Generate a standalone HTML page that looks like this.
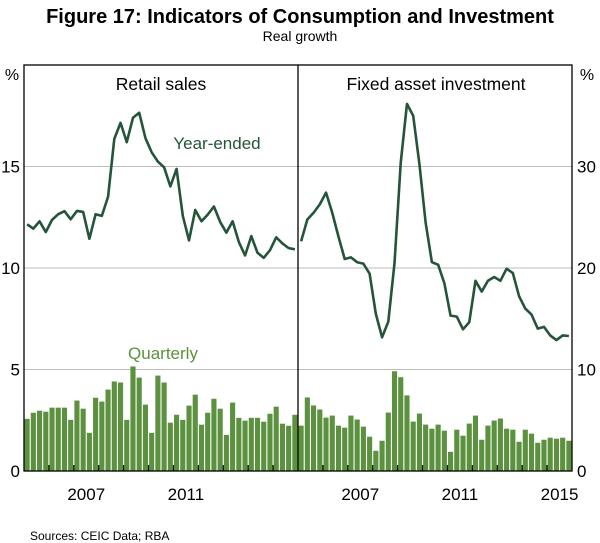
<!DOCTYPE html>
<html><head><meta charset="utf-8"><style>
body{margin:0;background:#fff;}
svg{display:block;font-family:"Liberation Sans",Arial,sans-serif;}
</style></head><body>
<svg id="chart" width="600" height="543" viewBox="0 0 600 543">
<text x="300" y="23" text-anchor="middle" font-size="20" font-weight="bold" fill="#000">Figure 17: Indicators of Consumption and Investment</text>
<text x="300" y="41" text-anchor="middle" font-size="14" fill="#000">Real growth</text>
<g id="grid"></g>
<g id="bars"></g>
<g id="lines"></g>
<g id="axes"></g>
<text x="12" y="80" text-anchor="middle" font-size="16">%</text>
<text x="587" y="80" text-anchor="middle" font-size="16">%</text>
<text x="161" y="90" text-anchor="middle" font-size="17.5">Retail sales</text>
<text x="436" y="90" text-anchor="middle" font-size="17.5">Fixed asset investment</text>
<text x="217" y="149" text-anchor="middle" font-size="17" fill="#24553a">Year-ended</text>
<text x="163" y="359" text-anchor="middle" font-size="17" fill="#5b913f">Quarterly</text>
<text x="30" y="540" font-size="12" fill="#000">Sources:   CEIC Data; RBA</text>
</svg>
<script>
const retailQuarterly=[2.57,2.87,2.97,2.92,3.12,3.12,3.12,2.52,3.47,3.07,1.88,3.61,3.42,4.01,4.41,4.36,2.52,5.15,4.6,3.27,1.88,4.7,4.36,2.38,2.77,2.52,3.22,3.76,2.28,2.87,3.56,3.07,1.78,3.37,2.62,2.48,2.62,2.62,2.43,2.82,3.17,2.33,2.23,2.77];
const retailYearEnded=[12.15,11.94,12.30,11.77,12.37,12.65,12.80,12.40,12.81,12.76,11.44,12.65,12.57,13.51,16.36,17.15,16.20,17.40,17.65,16.40,15.70,15.24,14.96,14.02,14.88,12.57,11.36,12.86,12.30,12.63,13.03,12.27,11.74,12.30,11.28,10.62,11.57,10.75,10.50,10.88,11.51,11.21,10.98,10.92];
const faiQuarterly=[4.47,7.25,6.46,6.06,5.26,5.46,4.47,4.27,5.46,5.07,4.37,3.38,1.99,2.98,5.76,9.83,9.24,7.45,4.87,5.66,4.57,4.17,4.57,3.97,1.89,4.07,3.48,4.67,5.46,3.08,4.47,4.97,5.17,4.17,4.07,2.88,4.07,3.68,2.78,3.08,3.28,3.18,3.28,2.98];
const faiYearEnded=[22.63,24.78,25.44,26.27,27.43,25.44,23.09,20.89,21.05,20.57,20.43,19.44,15.48,13.17,14.71,20.50,30.40,36.17,35.0,30.23,24.45,20.57,20.33,18.51,15.31,15.21,13.96,14.65,18.74,17.68,18.74,19.11,18.74,19.93,19.50,17.22,16.0,15.41,14.03,14.20,13.36,12.90,13.36,13.30];
const leftTicks=[0,5,10,15];
const rightTicks=[0,10,20,30];
const yearLabelsLeft=["2007","2011"];
const yearLabelsRight=["2007","2011","2015"];
const startYear=2005;

const NS="http://www.w3.org/2000/svg";
const pTop=65,bot=471,L0=24,L1=298,R1=572;
const nQ=44;
function mk(tag,attrs,parent){const e=document.createElementNS(NS,tag);for(const k in attrs)e.setAttribute(k,attrs[k]);parent.appendChild(e);return e;}
function xq(panel,i){const x0=panel?L1:L0;return x0+(i+0.5)*(L1-L0)/nQ;}
function xYear(panel,y){const x0=panel?L1:L0;return x0+(y-startYear)*4*(L1-L0)/nQ;}
function yL(v){return bot-v*(bot-pTop)/20;}
function yR(v){return bot-v*(bot-pTop)/40;}
const grid=document.getElementById('grid'),bars=document.getElementById('bars'),lines=document.getElementById('lines'),axes=document.getElementById('axes');

leftTicks.forEach(v=>{
 if(v>0){const g=mk('line',{x1:L0,x2:R1,y1:yL(v),y2:yL(v),stroke:'#bdbdbd','stroke-width':1},grid);
 
 }
 const t=mk('text',{x:20,y:yL(v)+6,'text-anchor':'end','font-size':17},axes);t.textContent=v;
 
 
});
rightTicks.forEach(v=>{
 const t=mk('text',{x:577,y:yR(v)+6,'text-anchor':'start','font-size':17},axes);t.textContent=v;
 
 
});
const bw=(L1-L0)/nQ-1.1;
function drawBars(arr,panel,yf,name){arr.forEach((v,i)=>{const y=yf(v);
 const r=mk('rect',{x:xq(panel,i)-bw/2,y:y,width:bw,height:bot-y,fill:'#5b913f'},bars);
 
 });}
drawBars(retailQuarterly,0,yL,'retail-quarterly-bar');
drawBars(faiQuarterly,1,yR,'fai-quarterly-bar');
function drawLine(arr,panel,yf,name){const p=mk('polyline',{points:arr.map((v,i)=>xq(panel,i).toFixed(2)+','+yf(v).toFixed(2)).join(' '),fill:'none',stroke:'#24553a','stroke-width':2.6,'stroke-linejoin':'round'},lines);
 
 }
drawLine(retailYearEnded,0,yL,'retail-year-ended-line');
drawLine(faiYearEnded,1,yR,'fai-year-ended-line');

for(let p=0;p<2;p++){for(let y=startYear+1;y<startYear+11;y++){const x=xYear(p,y);
 const tk=mk('line',{x1:x,x2:x,y1:bot,y2:bot-6,stroke:'#000','stroke-width':1.2},axes);
 
 }}
function yearLabels(list,panel,name){list.forEach(s=>{const y=+s;const x=(xYear(panel,y)+xYear(panel,y+1))/2;
 const t=mk('text',{x:x,y:500,'text-anchor':'middle','font-size':17},axes);t.textContent=s;
 
 });}
yearLabels(yearLabelsLeft,0,'left-x-tick-label');
yearLabels(yearLabelsRight,1,'right-x-tick-label');

const box=mk('rect',{x:L0,y:pTop,width:R1-L0,height:bot-pTop,fill:'none',stroke:'#000','stroke-width':1.3},axes);


const dv=mk('line',{x1:L1,x2:L1,y1:pTop,y2:bot,stroke:'#000','stroke-width':1.3},axes);


</script>
</body></html>
